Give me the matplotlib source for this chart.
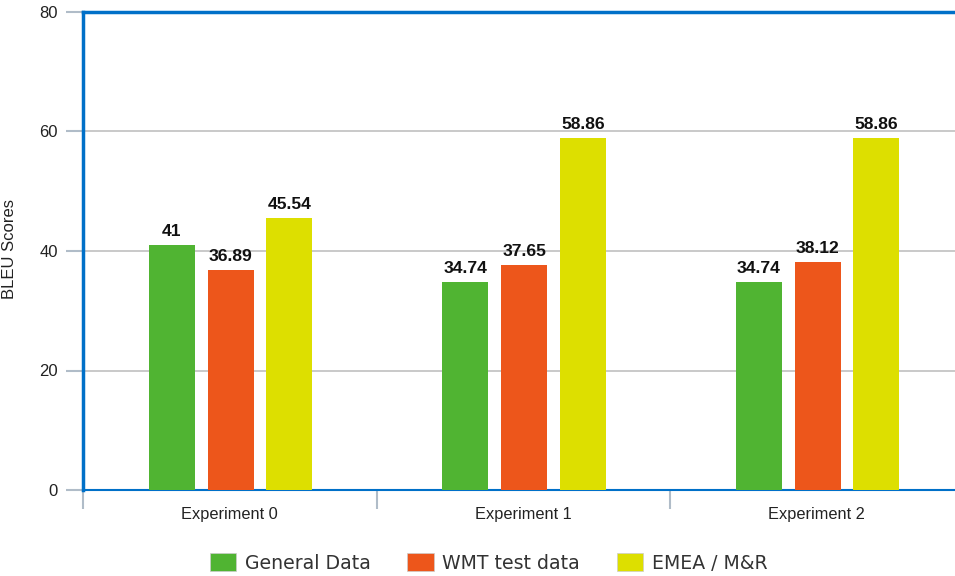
import matplotlib
matplotlib.use("Agg")
import matplotlib.pyplot as plt
import numpy as np
from matplotlib.patches import Patch

categories = ["Experiment 0", "Experiment 1", "Experiment 2"]
series_names = ["General Data", "WMT test data", "EMEA / M&R"]
general = [41, 34.74, 34.74]
wmt = [36.89, 37.65, 38.12]
emea = [45.54, 58.86, 58.86]
labels_general = ["41", "34.74", "34.74"]
labels_wmt = ["36.89", "37.65", "38.12"]
labels_emea = ["45.54", "58.86", "58.86"]
colors = ["#50b432", "#ed561b", "#dddf00"]
yticks = [0, 20, 40, 60, 80]

fig = plt.figure(figsize=(9.55, 5.76), dpi=100)
W, H = 955, 576
left, right, top, bottom = 83, 963.5, 12, 490
ax = fig.add_axes([left / W, 1 - bottom / H, (right - left) / W, (bottom - top) / H])

x = np.arange(len(categories))
bw = 0.157
offs = [-0.2, 0.0, 0.2]
allvals = [general, wmt, emea]
alllabels = [labels_general, labels_wmt, labels_emea]
for i, (vals, labs) in enumerate(zip(allvals, alllabels)):
    xs = x + offs[i] + 0.003
    ax.bar(xs, vals, width=bw, color=colors[i], zorder=3)
    for xi, v, lab in zip(xs, vals, labs):
        ax.annotate(lab, (xi, v), xytext=(0, 6.5), textcoords="offset points",
                    ha="center", va="baseline", fontsize=12.6,
                    fontweight="bold", family="Liberation Sans", color="#111111")

ax.set_xlim(-0.5, 2.5)
ax.set_ylim(0, 80)
ax.set_yticks(yticks)
ax.set_yticklabels([str(t) for t in yticks], family="Liberation Sans", fontsize=12, color="#222222")
ax.yaxis.grid(True, color="#c0c0c0", linewidth=1.2, zorder=0)
ax.tick_params(axis="y", length=12, color="#b0bcc8", width=1.5, pad=6)
ax.set_xticks(x)
ax.set_xticklabels(categories, family="Liberation Sans", fontsize=11.8, color="#222222")
ax.set_xticks([-0.5, 0.5, 1.5], minor=True)
ax.tick_params(axis="x", which="major", length=0, pad=12)
ax.tick_params(axis="x", which="minor", length=14, color="#b0bcc8", width=1.5)

for s in ["left", "top"]:
    ax.spines[s].set_color("#0070c8")
    ax.spines[s].set_linewidth(2.5)
ax.spines["bottom"].set_color("#0070c8")
ax.spines["bottom"].set_linewidth(1.5)
ax.spines["right"].set_visible(False)

ax.set_ylabel("BLEU Scores", family="Liberation Sans", fontsize=12, color="#222222")
ax.yaxis.set_label_coords(-66 / (right - left), 0.505)

handles = [Patch(facecolor=c, edgecolor="#cccccc", linewidth=0.5) for c in colors]
fig.legend(handles, series_names, loc="center", bbox_to_anchor=(488.5 / W, 1 - 563 / H),
           ncol=3, frameon=False, handlelength=1.4, handleheight=1.05,
           columnspacing=1.95, handletextpad=0.45, prop={"family": "DejaVu Sans", "size": 13.6})
for t in fig.legends[0].get_texts():
    t.set_color("#333333")

fig.savefig("out.png", dpi=100)
